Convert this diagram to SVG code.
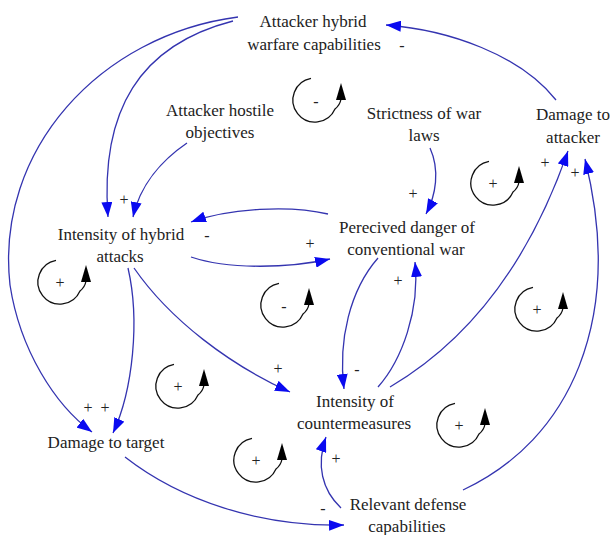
<svg xmlns="http://www.w3.org/2000/svg" width="613" height="535" viewBox="0 0 613 535">
<style>
text{font-family:"Liberation Serif","DejaVu Serif","Times New Roman",serif;fill:#222;text-anchor:middle}
.t{font-size:17px}
.s{font-size:16px;dominant-baseline:central}
.c{fill:none;stroke:#3434b0;stroke-width:1.3;marker-end:url(#ah)}
.l{fill:none;stroke:#111;stroke-width:1.3}
</style>
<defs>
<marker id="ah" markerUnits="userSpaceOnUse" markerWidth="16" markerHeight="11" refX="15" refY="5.5" orient="auto">
<path d="M0,0 L15,5.5 L0,11 z" fill="#0a0af0"/>
</marker>
<g id="loop">
<path class="l" d="M-4,-21.6 A22 22 0 1 0 20,9 Q25,5 26,-1"/>
<path d="M21,0 L31,0 L26,-17 z" fill="#000"/>
</g>
</defs>
<rect width="613" height="535" fill="#fff"/>
<g id="connectors">
<path class="c" d="M233,21 C140,45 100,110 108,217"/>
<path class="c" d="M238,17 C100,35 -5,150 10,285 C20,350 55,405 92,432"/>
<path class="c" d="M187,143 C162,160 140,185 133,217"/>
<path class="c" d="M328,214 C290,205 230,208 191,222"/>
<path class="c" d="M191,257 C230,270 290,268 330,259"/>
<path class="c" d="M430,148 C440,170 436,195 426,214"/>
<path class="c" d="M556,100 C520,55 450,30 386,25"/>
<path class="c" d="M128,268 C140,320 133,390 113,433"/>
<path class="c" d="M134,268 C170,320 230,365 290,392"/>
<path class="c" d="M125,457 C180,500 260,527 344,525"/>
<path class="c" d="M341,508 C322,490 316,465 326,437"/>
<path class="c" d="M378,258 C350,290 338,340 344,389"/>
<path class="c" d="M378,387 C402,360 420,310 415,262"/>
<path class="c" d="M390,387 C470,340 530,260 568,151"/>
<path class="c" d="M463,490 C570,440 625,320 585,159"/>
</g>
<g id="link-labels">
<text class="s" x="402" y="45">-</text>
<text class="s" x="124" y="199">+</text>
<text class="s" x="207" y="235">-</text>
<text class="s" x="310" y="243">+</text>
<text class="s" x="413" y="193">+</text>
<text class="s" x="545" y="162">+</text>
<text class="s" x="575" y="172">+</text>
<text class="s" x="88" y="407">+</text>
<text class="s" x="105" y="407">+</text>
<text class="s" x="278" y="368">+</text>
<text class="s" x="357" y="369">-</text>
<text class="s" x="398" y="280">+</text>
<text class="s" x="336" y="458">+</text>
<text class="s" x="323" y="508">-</text>
</g>
<g id="n-attacker-hybrid"><text class="t" x="313" y="27">Attacker hybrid</text><text class="t" x="314" y="50">warfare capabilities</text></g>
<g id="n-hostile"><text class="t" x="220" y="116">Attacker hostile</text><text class="t" x="220" y="138">objectives</text></g>
<g id="n-strictness"><text class="t" x="424" y="119">Strictness of war</text><text class="t" x="424" y="141">laws</text></g>
<g id="n-damage-attacker"><text class="t" x="573" y="120">Damage to</text><text class="t" x="573" y="143">attacker</text></g>
<g id="n-intensity-hybrid"><text class="t" x="121" y="240">Intensity of hybrid</text><text class="t" x="120" y="262">attacks</text></g>
<g id="n-perceived"><text class="t" x="407" y="233">Perecived danger of</text><text class="t" x="406" y="255">conventional war</text></g>
<g id="n-countermeasures"><text class="t" x="355" y="407">Intensity of</text><text class="t" x="354" y="429">countermeasures</text></g>
<g id="n-damage-target"><text class="t" x="106" y="448">Damage to target</text></g>
<g id="n-defense"><text class="t" x="408" y="510">Relevant defense</text><text class="t" x="407" y="532">capabilities</text></g>
<g id="loops">
<use href="#loop" x="315" y="100"/><text class="s" x="316" y="101">-</text>
<use href="#loop" x="493" y="183"/><text class="s" x="493" y="183">+</text>
<use href="#loop" x="60" y="282"/><text class="s" x="60" y="282">+</text>
<use href="#loop" x="283" y="305"/><text class="s" x="284" y="306">-</text>
<use href="#loop" x="178" y="386"/><text class="s" x="178" y="386">+</text>
<use href="#loop" x="256" y="460"/><text class="s" x="256" y="460">+</text>
<use href="#loop" x="537" y="309"/><text class="s" x="537" y="309">+</text>
<use href="#loop" x="459" y="425"/><text class="s" x="459" y="425">+</text>
</g>
</svg>
